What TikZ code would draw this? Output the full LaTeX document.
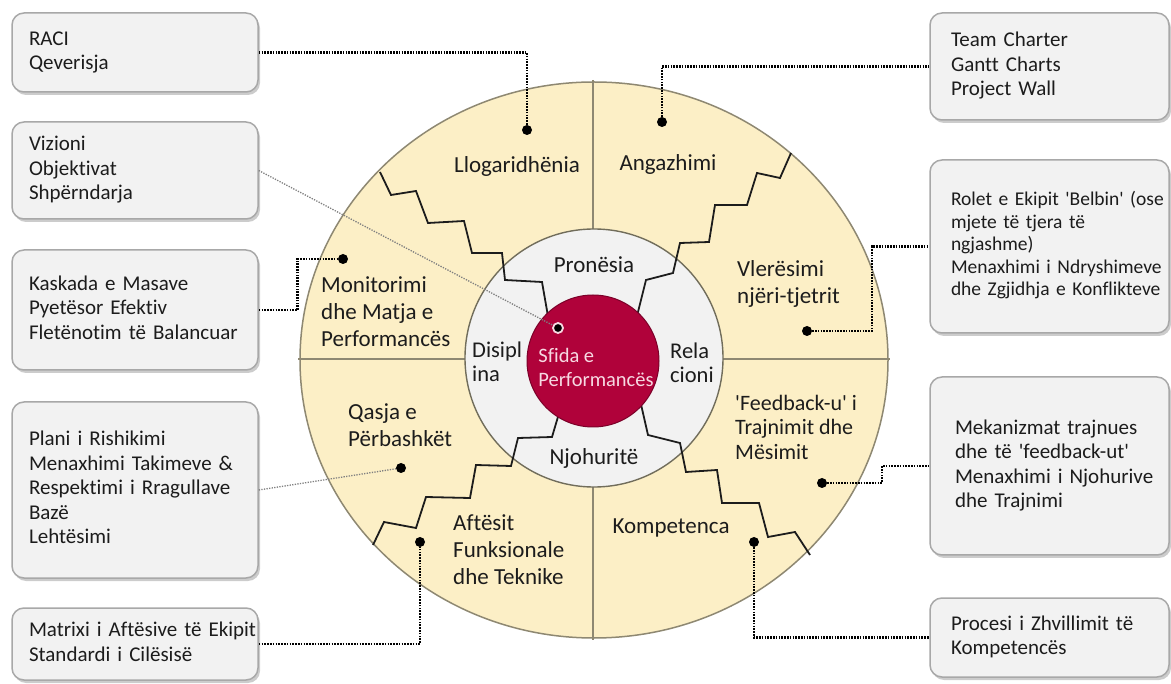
\documentclass[tikz,border=0pt]{standalone}
\usepackage{fontspec}
\setmainfont{Carlito}[Ligatures={TeX,NoCommon}]
\usepackage{tikz}
\usetikzlibrary{shadows}
\definecolor{Cream}{HTML}{FCEFC6}
\definecolor{Hub}{HTML}{F2F2F2}
\definecolor{Crimson}{HTML}{B0023A}
\definecolor{Rim}{HTML}{8E8872}
\definecolor{Ink}{HTML}{1C1C1C}
\definecolor{Frame}{HTML}{A8A8A8}
\definecolor{Blush}{HTML}{F7D9E2}
\newcommand{\cardlines}[1]{\begin{tabular}{@{}l@{}}#1\end{tabular}}
\newcommand{\q}{\textquotesingle}

\begin{document}
\begin{tikzpicture}[x=1pt,y=-1pt,
  card/.style={draw=Frame,fill=Hub,rounded corners=12pt,line width=1.5pt,text=Ink,font=\fontsize{21}{24.5}\selectfont,align=left,drop shadow={shadow xshift=2pt,shadow yshift=-3pt,fill=black!40}},
  lcard/.style={card,text width=212pt,inner xsep=17pt,minimum width=246pt},
  rcard/.style={card,text width=197pt,inner xsep=21pt,minimum width=239pt},
  ring/.style={font=\fontsize{23}{27}\selectfont,text=Ink,align=left,inner sep=0pt},
  pin/.style={circle,fill=black,inner sep=0pt,minimum size=10pt},
  link/.style={draw=black,line width=2.6pt,dash pattern=on 1.6pt off 1.2pt},
  hint/.style={draw=black!50,line width=1.3pt,dash pattern=on 1.3pt off 1.3pt},
  zig/.style={draw=Ink,line width=1.8pt,line join=miter},
  divider/.style={draw=Rim,line width=1.1pt}
]
\useasboundingbox (0,0) rectangle (1171,684);

\fill[Cream] (594,360) ellipse [x radius=294pt,y radius=278pt];
\draw[divider] (593,80) -- (593,240);
\draw[divider] (593,480) -- (593,640);
\draw[divider] (298,359) -- (470,359);
\draw[divider] (718,359) -- (890,359);
\draw[Rim,line width=1.5pt] (594,360) ellipse [x radius=294pt,y radius=278pt];
\draw[Rim!80!black,line width=1.4pt,fill=Hub] (594,358) circle [radius=129pt];

\draw[zig] (380,172) -- (391,195) -- (416,191) -- (428,223) -- (464,221) -- (472,253) -- (502,253) -- (505,280) -- (542,282) -- (549,322);
\draw[zig] (791,153) -- (780,178) -- (757,173) -- (747,205) -- (715,205) -- (709,242) -- (680,243) -- (673,273) -- (646,280) -- (636,320);
\draw[zig] (560,410) -- (552,437) -- (518,438) -- (511,466) -- (476,465) -- (470,498) -- (426,497) -- (416,528) -- (384,522) -- (373,545);
\draw[zig] (640,400) -- (648,435) -- (680,443) -- (686,472) -- (717,470) -- (722,503) -- (759,503) -- (768,537) -- (795,532) -- (810,555);

\node[circle,fill=Crimson,draw=Crimson!70!black,line width=1pt,minimum size=132pt,inner sep=0pt] (core) at (593,361) {};
\node[ring,text=Blush,font=\fontsize{20.5}{24}\selectfont] (lblSfi) at (596,367) {Sfida e\\Performancës};

\node[ring] (lblLlog) at (517,166) {Llogaridhënia};
\node[ring] (lblAng) at (668,164) {Angazhimi};
\node[ring,anchor=west] (lblMon) at (321,312) {Monitorimi\\dhe Matja e\\Performancës};
\node[ring,anchor=west] (lblVle) at (737,284) {Vlerësimi\\njëri-tjetrit};
\node[ring,anchor=west] (lblQas) at (348,425) {Qasja e\\Përbashkët};
\node[ring,anchor=west,font=\fontsize{22}{24.5}\selectfont] (lblFee) at (735,427) {\q Feedback-u\q{} i\\Trajnimit dhe\\Mësimit};
\node[ring,anchor=west] (lblAft) at (453,550) {Aftësit\\Funksionale\\dhe Teknike};
\node[ring] (lblKom) at (671,528) {Kompetenca};
\node[ring] (lblPro) at (594,265) {Pronësia};
\node[ring] (lblNjo) at (594,458) {Njohuritë};
\node[ring,anchor=west,font=\fontsize{22.5}{24.5}\selectfont] (lblDis) at (472,362) {Disipl\\ina};
\node[ring,anchor=west,font=\fontsize{22.5}{24.5}\selectfont] (lblRel) at (670,363) {Rela\\cioni};

\node[lcard,minimum height=79pt] (raci) at (135,52.5) {\cardlines{RACI\\Qeverisja}};
\node[lcard,minimum height=97pt] (vizioni) at (135,170.5) {\cardlines{Vizioni\\Objektivat\\Shpërndarja}};
\node[lcard,minimum height=120pt] (kaskada) at (135,310) {\cardlines{Kaskada e Masave\\Pyetësor Efektiv\\Fletënotim të Balancuar}};
\node[lcard,minimum height=176pt] (plani) at (135,490) {\cardlines{Plani i Rishikimi\\Menaxhimi Takimeve \&\\Respektimi i Rragullave\\Bazë\\Lehtësimi}};
\node[lcard,minimum height=72pt] (matrixi) at (135,644) {\cardlines{Matrixi i Aftësive të Ekipit\\Standardi i Cilësisë}};
\node[rcard,minimum height=107pt] (team) at (1049.5,66.5) {\cardlines{Team Charter\\Gantt Charts\\Project Wall}};
\node[rcard,minimum height=173pt,font=\fontsize{19.5}{22.5}\selectfont] (rolet) at (1049.5,246.5) {\cardlines{Rolet e Ekipit \q Belbin\q{} (ose\\mjete të tjera të\\ngjashme)\\Menaxhimi i Ndryshimeve\\dhe Zgjidhja e Konflikteve}};
\node[rcard,minimum height=178pt,inner xsep=25pt,text width=189pt] (mekan) at (1049.5,466) {\cardlines{Mekanizmat trajnues\\dhe të \q feedback-ut\q\\Menaxhimi i Njohurive\\dhe Trajnimi}};
\node[rcard,minimum height=79pt] (procesi) at (1049.5,637.5) {\cardlines{Procesi i Zhvillimit të\\Kompetencës}};

\node[pin] (dotLlog) at (527,130) {};
\node[pin] (dotAng) at (662,122) {};
\node[pin] (dotMon) at (343,259) {};
\node[pin] (dotVle) at (807,331) {};
\node[pin] (dotQas) at (401,468) {};
\node[pin] (dotAft) at (420,542) {};
\node[pin] (dotKom) at (754,542) {};
\node[pin] (dotFee) at (822,483) {};
\node[pin,draw=Blush,line width=1.8pt] (dotSfi) at (558,328) {};

\draw[link] (raci.east) -| (dotLlog);
\draw[hint] (vizioni.east) -- (dotSfi);
\draw[link] (kaskada.east) -- ++(39,0) |- (dotMon);
\draw[hint] (plani.east) -- (dotQas);
\draw[link] (matrixi.east) -| (dotAft);
\draw[link] (dotAng) |- (team.west);
\draw[link] (dotVle) -- ++(65,0) |- (rolet.west);
\draw[link] (dotFee) -- ++(60,0) |- (mekan.west);
\draw[link] (dotKom) |- (procesi.west);
\end{tikzpicture}
\end{document}
